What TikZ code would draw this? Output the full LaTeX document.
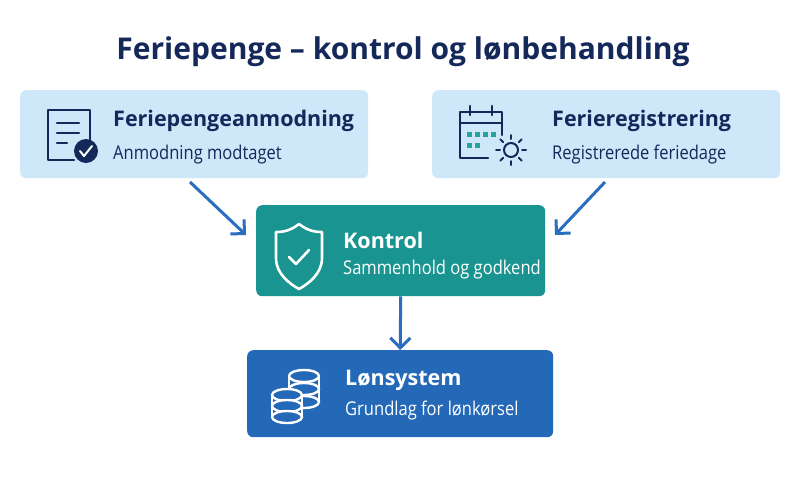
\documentclass[tikz,border=0pt]{standalone}
\usepackage{fontspec}
\setmainfont{Open Sans}
\newfontfamily\narrowsub[FakeStretch=0.87]{Open Sans}
\usetikzlibrary{arrows.meta,positioning}
\definecolor{titlenavy}{RGB}{20,40,90}
\definecolor{lightbox}{RGB}{206,232,250}
\definecolor{teal}{RGB}{26,148,144}
\definecolor{lonblue}{RGB}{36,104,184}
\definecolor{arrowblue}{RGB}{42,110,192}
\definecolor{sqteal}{RGB}{40,160,160}
\begin{document}
\begin{tikzpicture}[x=1pt, y=-1pt, >=Stealth,
	box/.style={draw=none, rectangle, rounded corners=6pt, anchor=north west, inner sep=0pt},
	head/.style={anchor=west, inner sep=0pt, font=\fontsize{21.5}{24}\selectfont\bfseries},
	sub/.style={anchor=west, inner sep=0pt, font=\narrowsub\fontsize{19}{22}\selectfont},
	flow/.style={line width=3pt, color=arrowblue, -{Straight Barb[length=10pt,width=20pt,line width=3pt]}},
	icon/.style={line width=2.6pt, line cap=round, line join=round}
	]
	\useasboundingbox (0,0) rectangle (800,491);
	\fill[white] (0,0) rectangle (800,491);
	\node[anchor=center, text=titlenavy, font=\fontsize{30}{34}\selectfont\bfseries](title) at (403,52) {Feriepenge -- kontrol og lønbehandling};
	% boxes
	\node[box, fill=lightbox, minimum width=348pt, minimum height=88pt](req) at (20,90) {};
	\node[box, fill=lightbox, minimum width=348pt, minimum height=88pt](reg) at (432,90) {};
	\node[box, fill=teal, minimum width=289pt, minimum height=91pt](ctrl) at (256,205) {};
	\node[box, fill=lonblue, minimum width=306pt, minimum height=87pt](lon) at (247,350) {};
	% texts
	\node[head, text=titlenavy](reqh) at (113,121) {Feriepengeanmodning};
	\node[sub, text=titlenavy](reqs) at (113,155) {Anmodning modtaget};
	\node[head, text=titlenavy](regh) at (552,121) {Ferieregistrering};
	\node[sub, text=titlenavy](regs) at (552,155) {Registrerede feriedage};
	\node[head, text=white](ctrlh) at (343,240) {Kontrol};
	\node[sub, text=white](ctrls) at (343,270) {Sammenhold og godkend};
	\node[head, text=white](lonh) at (345,380) {Lønsystem};
	\node[sub, text=white](lons) at (345,411) {Grundlag for lønkørsel};
	% connectors
	\coordinate (reqout) at (190,182);
	\coordinate (regout) at (605,182);
	\draw[flow] (reqout) -- (246,235);
	\draw[flow] (regout) -- (555,235);
	\draw[flow] (ctrl.south) -- (lon.north);
	% icon: document
	\draw[icon, titlenavy] (90,140) -- (90,110) -- (48,110) -- (48,160) -- (74,160);
	\draw[icon, titlenavy] (57,123) -- (79,123) (57,133) -- (79,133) (57,143) -- (67,143);
	\fill[titlenavy] (86,151) circle (12);
	\draw[line width=2pt, white, line cap=round, line join=round] (80,151) -- (84,156) -- (92,146);
	% icon: calendar
	\draw[icon, titlenavy] (502,135) -- (502,112) -- (460,112) -- (460,158) -- (488,158);
	\draw[icon, titlenavy] (460,123) -- (502,123) (470,106) -- (470,115) (492,106) -- (492,115);
	\foreach \cx/\cy in {467/132, 475/132, 483/132, 491/132, 467/143, 475/143}
		\fill[sqteal] (\cx,\cy) rectangle ++(5,5);
	\draw[line width=2pt, titlenavy] (511,150) circle (7);
	\foreach \a in {0,45,...,315}
		\draw[line width=2pt, titlenavy, line cap=round] (511,150) ++(\a:11) -- ++(\a:4);
	% icon: shield
	\draw[icon, white] (299,224) .. controls (289,232) and (280,232) .. (276,232) -- (276,258) .. controls (276,274) and (290,284) .. (299,289) .. controls (308,284) and (322,274) .. (322,258) -- (322,232) .. controls (318,232) and (309,232) .. (299,224) -- cycle;
	\draw[icon, white] (289,257) -- (296,264) -- (309,250);
	% icon: coins
	\foreach \cy in {376,389,402}
		\draw[line width=2.4pt, white, fill=lonblue] (304,\cy) ellipse (15 and 6);
	\draw[line width=2.4pt, white] (289,376) -- (289,402) (319,376) -- (319,402);
	\foreach \cy in {395,406,417}
		\draw[line width=2.4pt, white, fill=lonblue] (287,\cy) ellipse (15 and 6);
	\draw[line width=2.4pt, white] (272,395) -- (272,417) (302,395) -- (302,417);
\end{tikzpicture}
\end{document}
